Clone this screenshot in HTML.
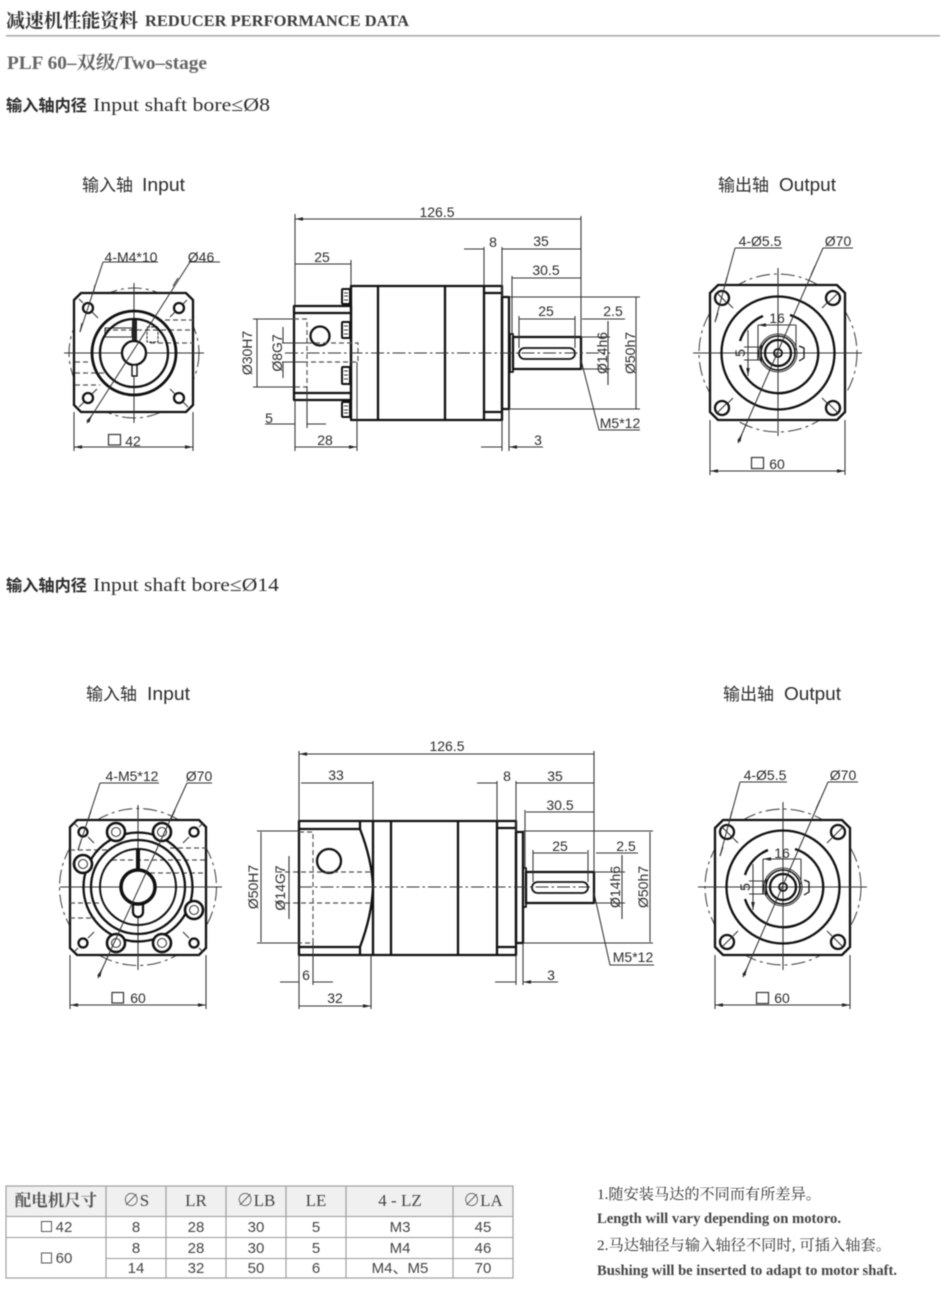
<!DOCTYPE html>
<html><head><meta charset="utf-8"><title>Reducer performance data</title>
<style>
html,body{margin:0;padding:0;background:#fff;width:950px;height:1309px;overflow:hidden}
svg{display:block;filter:blur(.4px)}
text{font-family:"Liberation Sans","Noto Sans CJK SC",sans-serif;fill:#2c2c2c}
.d{font-size:14px;text-anchor:middle}
.r{font-size:15px;text-anchor:middle;fill:#444}
.s{font-family:"Liberation Serif","Noto Serif CJK SC",serif}
.t{stroke:#111;stroke-width:2.300;fill:none;stroke-linejoin:round}
.f{stroke:#111;stroke-width:2.300;fill:#fff}
.n{stroke:#333;stroke-width:1.050;fill:none}
.a{stroke:#333;stroke-width:1.050;fill:none;marker-end:url(#ar)}
.b{stroke:#333;stroke-width:1.050;fill:none;marker-start:url(#ar);marker-end:url(#ar)}
.h{stroke:#555;stroke-width:1.200;fill:none;stroke-dasharray:5 3}
.c{stroke:#333;stroke-width:1.050;fill:none;stroke-dasharray:13 3 2.500 3}
.e{stroke:#444;stroke-width:1.050;fill:none;stroke-dasharray:14 4 3 4}
</style></head><body>
<svg xmlns="http://www.w3.org/2000/svg" width="950" height="1309" viewBox="0 0 950 1309">
<defs><marker id="ar" viewBox="0 0 8 4" refX="8" refY="2" markerWidth="8" markerHeight="4" markerUnits="userSpaceOnUse" orient="auto-start-reverse"><path d="M0 0.2L8 2L0 3.800Z" fill="#222"/></marker></defs>
<rect width="950" height="1309" fill="#fff"/>

<!-- headings -->
<text x="6" y="27" class="s" font-size="19" font-weight="bold" textLength="132" lengthAdjust="spacingAndGlyphs" style="fill:#333">减速机性能资料</text>
<text x="145" y="26" class="s" font-size="16" font-weight="bold" textLength="264" lengthAdjust="spacingAndGlyphs" style="fill:#3c3c3c">REDUCER PERFORMANCE DATA</text>
<rect x="6" y="35" width="934" height="1.600" fill="#aaa"/>
<text x="7" y="69" class="s" font-size="18.500" font-weight="bold" textLength="200" lengthAdjust="spacingAndGlyphs" style="fill:#666">PLF 60–双级/Two–stage</text>
<text x="6" y="111" font-size="16" font-weight="bold" textLength="81" lengthAdjust="spacingAndGlyphs">输入轴内径</text>
<text x="93" y="111" class="s" font-size="19" textLength="177" lengthAdjust="spacingAndGlyphs">Input shaft bore≤Ø8</text>
<text x="6" y="591" font-size="16" font-weight="bold" textLength="81" lengthAdjust="spacingAndGlyphs">输入轴内径</text>
<text x="93" y="591" class="s" font-size="19" textLength="186" lengthAdjust="spacingAndGlyphs">Input shaft bore≤Ø14</text>

<text x="82" y="191" font-size="17">输入轴</text><text x="142" y="191" font-size="18.500" textLength="43" lengthAdjust="spacingAndGlyphs">Input</text>
<text x="718" y="191" font-size="17">输出轴</text><text x="779" y="191" font-size="18.500" textLength="57" lengthAdjust="spacingAndGlyphs">Output</text>
<text x="86" y="700" font-size="17">输入轴</text><text x="147" y="700" font-size="18.500" textLength="43" lengthAdjust="spacingAndGlyphs">Input</text>
<text x="723" y="700" font-size="17">输出轴</text><text x="784" y="700" font-size="18.500" textLength="57" lengthAdjust="spacingAndGlyphs">Output</text>

<!-- ===== SECTION 1: input flange ===== -->
<circle cx="134" cy="353" r="65" class="e"/>
<path class="f" d="M81 293H186L193 300V405L186 412H81L74 405V300Z"/>
<path class="n" d="M64 353H204M134 283V423"/>
<path class="h" d="M165 320H193M105 330H193M150 343H193M75 362H90M75 373H105M75 385H100"/>
<rect x="105" y="328" width="27" height="9" class="n"/>
<rect x="147" y="327" width="11" height="15" class="n" stroke-dasharray="3 1"/>
<circle cx="134" cy="353" r="42" class="t" style="stroke-width:2.800"/>
<circle cx="134" cy="353" r="34" class="t"/>
<rect x="132" y="320" width="5" height="22" fill="#222"/>
<circle cx="134" cy="353" r="12" class="f"/>
<rect x="132" y="365" width="5" height="11" class="f" style="stroke-width:1.400"/>
<g class="t"><circle cx="88" cy="308" r="5"/><circle cx="179" cy="308" r="5"/><circle cx="88" cy="398" r="5"/><circle cx="179" cy="398" r="5"/></g>
<path class="n" d="M92 312L98 318M83 303L79 299M175 312L170 317M183 304L187 300M92 394L97 389M84 402L79 407M175 394L170 389M183 402L188 407"/>
<path class="n" d="M103 262H158M103 262L80 332M190 262H220M190 262L87 423"/>
<path class="a" d="M95 285L93 294M80 332L82 323M178 278L173 286M87 423L92 415"/>
<text x="131" y="262" class="d">4-M4*10</text><text x="201" y="262" class="d">Ø46</text>
<path class="n" d="M74 412V451M193 412V451"/><path class="b" d="M74 447H193"/>
<rect x="108.500" y="434.500" width="12" height="10.500" class="n" style="stroke-width:1.200"/>
<text x="133" y="446" class="d">42</text>

<!-- section 1 side -->
<g>
<path class="t" d="M294 306H351V400H294ZM294 313H351M294 393H351"/>
<rect x="351" y="286" width="151" height="134" class="t"/>
<path class="t" d="M378 286V420M445 286V420M484 286V420M484 293H502M484 412H502"/>
<rect x="502" y="297" width="7" height="112" class="t"/>
<rect x="510" y="334" width="3" height="38" class="t" style="stroke-width:1.800"/>
<rect x="513" y="337" width="68" height="32" class="t"/>
<rect x="519" y="348" width="56" height="11" rx="5.500" class="t" style="stroke-width:1.800"/>
<g class="t" style="stroke-width:2">
<rect x="342" y="289" width="8" height="15" rx="1"/><rect x="342" y="322" width="8" height="16" rx="1"/><rect x="342" y="367" width="8" height="17" rx="1"/><rect x="342" y="402" width="8" height="15" rx="1"/>
</g>
<path class="n" d="M344 293H348M344 296H348M344 300H348M344 326H348M344 330H348M344 334H348M344 371H348M344 375H348M344 379H348M344 406H348M344 410H348M344 413H348"/>
<circle cx="320" cy="336" r="9.500" class="t"/>
<path class="h" d="M294 319H307V387H294M307 343H358V362H307"/>
<path class="c" d="M285 353H610"/>
</g>
<path class="n" d="M295 214V306M581 216V337M351 260V286M484 247V286M502 247V297M512 276V334M519 316V348M575 316V348M509 297H640M509 409H640M581 337H610M581 369H610M253 319H294M253 387H294M282 343H307M282 362H307M295 400V451M357 362V451M307 387V428M502 420V451M509 409V451"/>
<path class="b" d="M295 219H581M295 264H351M502 249H581M512 278H581M519 319H575M636 297V409M257 319V387M295 447H357"/>
<path class="a" d="M464 249H484M625 319H582M608 321V337M608 385V369M283 327V343M283 378V362M265 424H295M326 424H307M481 447H502M543 447H509"/>
<path class="n" d="M581 360L599 430H640M608 321V385"/>
<text x="437" y="217" class="d">126.5</text>
<text x="322" y="262" class="d">25</text><text x="493" y="247" class="d">8</text><text x="541" y="246" class="d">35</text>
<text x="546" y="275" class="d">30.5</text><text x="546" y="316" class="d">25</text><text x="613" y="316" class="d">2.5</text>
<text x="620" y="428" class="d">M5*12</text><text x="538" y="445" class="d">3</text><text x="325" y="445" class="d">28</text><text x="269" y="423" class="d">5</text>
<text class="d" transform="translate(635 353) rotate(-90)">Ø50h7</text>
<text class="d" transform="translate(607 353) rotate(-90)">Ø14h6</text>
<text class="d" transform="translate(252 353) rotate(-90)">Ø30H7</text>
<text class="d" transform="translate(282 353) rotate(-90)">Ø8G7</text>

<!-- section 1 output flange -->
<circle cx="778" cy="353" r="79" class="e"/>
<path class="f" d="M718 285H837L845 293V412L837 420H718L710 412V293Z"/>
<path class="n" d="M693 353H862M778 268V436"/>
<circle cx="778" cy="353" r="56.500" class="t"/>
<path class="t" d="M790 315A40 40 0 1 1 740 365M740 341A40 40 0 0 1 763 316"/>
<g class="t"><circle cx="722" cy="298" r="7"/><circle cx="833" cy="298" r="7"/><circle cx="722" cy="408" r="7"/><circle cx="833" cy="408" r="7"/></g>
<path class="n" d="M717 293L727 303M838 293L828 303M717 413L727 403M838 413L828 403M728 303L733 308M827 303L822 308M728 403L733 398M827 403L822 398"/>
<circle cx="778" cy="353" r="19" class="n"/><circle cx="778" cy="353" r="17" class="t" style="stroke-width:1.600"/><circle cx="778" cy="353" r="13" class="t"/><circle cx="778" cy="353" r="4" class="t" style="stroke-width:1.800"/>
<path class="t" style="stroke-width:1.300" d="M799 346L804 348V358L799 361M758 347V360M761 345V362"/>
<path class="b" d="M758 325H796M748 330V376"/>
<path class="n" d="M758 325V350M796 325V350M744 347H760M744 360H760"/>
<text x="777" y="323" class="d">16</text>
<text class="d" transform="translate(745 353) rotate(-90)">5</text>
<path class="n" d="M735 248H782M735 248L715 322M823 248H853M823 248L738 443"/>
<path class="a" d="M727 277L725 285M715 322L718 313M815 266L811 275M738 443L742 434"/>
<text x="760" y="246" class="d">4-Ø5.5</text><text x="838" y="246" class="d">Ø70</text>
<path class="n" d="M710 420V475M845 420V475"/><path class="b" d="M710 471H845"/>
<rect x="751.500" y="457.500" width="12" height="11" class="n" style="stroke-width:1.200"/>
<text x="777" y="469" class="d">60</text>

<!-- ===== SECTION 2: input flange ===== -->
<circle cx="138" cy="887" r="78.500" class="e"/>
<path class="f" d="M77 820H199L206 827V948L199 955H77L70 948V827Z"/>
<path class="n" d="M60 887H222M138 805V970"/>
<path class="h" d="M70 850H110M170 848H206M112 860H206M150 873H206M70 903H100M70 918H95"/>
<circle cx="138" cy="887" r="54.500" class="t"/>
<circle cx="138" cy="887" r="47" class="t"/>
<circle cx="138" cy="887" r="38" class="t" style="stroke-width:2"/>
<rect x="136" y="849" width="4" height="22" fill="#111"/>
<path class="f" d="M133 900H143V912A5 5 0 0 1 133 912Z"/>
<circle cx="138" cy="887" r="17" class="f" style="stroke-width:3.500"/>
<g class="f" style="stroke-width:2.600">
<circle cx="116" cy="832" r="9"/><circle cx="162" cy="832" r="9"/><circle cx="83" cy="864" r="9"/><circle cx="194" cy="910" r="9"/><circle cx="116" cy="943" r="9"/><circle cx="162" cy="943" r="9"/>
</g>
<g class="n"><circle cx="116" cy="832" r="4.500"/><circle cx="162" cy="832" r="4.500"/><circle cx="83" cy="864" r="4.500"/><circle cx="194" cy="910" r="4.500"/><circle cx="116" cy="943" r="4.500"/><circle cx="162" cy="943" r="4.500"/></g>
<g class="t"><circle cx="83" cy="832" r="4.500"/><circle cx="194" cy="832" r="4.500"/><circle cx="83" cy="943" r="4.500"/><circle cx="194" cy="943" r="4.500"/></g>
<path class="n" d="M88 837L94 843M189 837L183 843M88 938L94 932M189 938L183 932M78 827L74 823M199 827L203 823M78 948L74 952M199 948L203 952"/>
<path class="n" d="M100 783H159M100 783L78 850M187 783H212M187 783L98 978"/>
<path class="a" d="M91 811L88 820M78 850L81 841M175 810L171 819M98 978L102 969"/>
<text x="132" y="781" class="d">4-M5*12</text><text x="199" y="781" class="d">Ø70</text>
<path class="n" d="M70 955V1009M206 955V1009"/><path class="b" d="M70 1005H206"/>
<rect x="112" y="992.500" width="11.500" height="10.500" class="n" style="stroke-width:1.200"/>
<text x="138" y="1003" class="d">60</text>

<!-- section 2 side -->
<rect x="299" y="821" width="217" height="134" class="t"/>
<path class="t" d="M299 829H360V821M299 947H360V955M360 829Q372 860 373 887Q372 915 360 947M373 821V955M391 821V955M458 821V955M497 821V955M497 828H516M497 947H516"/>
<rect x="516" y="832" width="7" height="111" class="t"/>
<rect x="523" y="868" width="3" height="39" class="t" style="stroke-width:1.800"/>
<rect x="526" y="872" width="68" height="31" class="t"/>
<rect x="532" y="882" width="56" height="11" rx="5.500" class="t" style="stroke-width:1.800"/>
<circle cx="329" cy="861" r="12" class="t"/>
<path class="h" d="M299 832H313V943H299M277 872H372M277 903H372"/>
<path class="c" d="M299 887H590"/>
<path class="n" d="M299 751V821M594 751V872M373 781V821M497 781V821M516 781V832M525 810V868M533 850V882M588 850V882M523 831H653M523 943H653M594 872H625M594 903H625M257 831H299M257 943H299M299 955V1009M371 955V1009M313 943V985M516 955V985M523 943V985"/>
<path class="b" d="M299 754H594M301 783H373M516 783H594M526 812H594M533 853H587M650 832V942M261 832V942M299 1006H371"/>
<path class="a" d="M477 783H497M638 853H596M622 855V872M622 919V903M289 856V872M289 919V903M280 982H299M333 982H313M495 982H516M558 982H523"/>
<path class="n" d="M594 893L610 965H654M622 855V919M289 856V919"/>
<text x="447" y="751" class="d">126.5</text><text x="336" y="780" class="d">33</text><text x="507" y="781" class="d">8</text><text x="555" y="781" class="d">35</text>
<text x="560" y="810" class="d">30.5</text><text x="560" y="851" class="d">25</text><text x="626" y="851" class="d">2.5</text>
<text x="633" y="962" class="d">M5*12</text><text x="551" y="980" class="d">3</text><text x="306" y="980" class="d">6</text><text x="335" y="1003" class="d">32</text>
<text class="d" transform="translate(648 887) rotate(-90)">Ø50h7</text>
<text class="d" transform="translate(620 887) rotate(-90)">Ø14h6</text>
<text class="d" transform="translate(258 887) rotate(-90)">Ø50H7</text>
<text class="d" transform="translate(285 888) rotate(-90)">Ø14G7</text>

<!-- section 2 output flange -->
<circle cx="783" cy="887" r="78" class="e"/>
<path class="f" d="M723 820H842L850 828V947L842 955H723L715 947V828Z"/>
<path class="n" d="M698 887H867M783 802V970"/>
<circle cx="783" cy="887" r="56.500" class="t"/>
<path class="t" d="M795 849A40 40 0 1 1 745 899M745 875A40 40 0 0 1 768 850"/>
<g class="t"><circle cx="727" cy="832" r="7"/><circle cx="838" cy="832" r="7"/><circle cx="727" cy="942" r="7"/><circle cx="838" cy="942" r="7"/></g>
<path class="n" d="M722 827L732 837M843 827L833 837M722 947L732 937M843 947L833 937M733 838L738 843M832 838L827 843M733 936L738 931M832 936L827 931"/>
<circle cx="783" cy="887" r="19" class="n"/><circle cx="783" cy="887" r="17" class="t" style="stroke-width:1.600"/><circle cx="783" cy="887" r="13" class="t"/><circle cx="783" cy="887" r="4" class="t" style="stroke-width:1.800"/>
<path class="t" style="stroke-width:1.300" d="M804 880L809 882V892L804 895M763 881V894M766 879V896"/>
<path class="b" d="M763 859H801M753 864V910"/>
<path class="n" d="M763 859V884M801 859V884M749 881H765M749 894H765"/>
<text x="782" y="858" class="d">16</text>
<text class="d" transform="translate(750 887) rotate(-90)">5</text>
<path class="n" d="M740 782H787M740 782L720 856M828 782H858M828 782L743 977"/>
<path class="a" d="M732 811L730 819M720 856L723 847M820 800L816 809M743 977L747 968"/>
<text x="765" y="780" class="d">4-Ø5.5</text><text x="843" y="780" class="d">Ø70</text>
<path class="n" d="M715 955V1009M850 955V1009"/><path class="b" d="M715 1005H850"/>
<rect x="756.500" y="992.500" width="12" height="11" class="n" style="stroke-width:1.200"/>
<text x="782" y="1003" class="d">60</text>

<!-- table -->
<rect x="6" y="1186" width="507" height="30" fill="#f0f0f0"/>
<rect x="6" y="1186" width="507" height="92" fill="none" stroke="#999" stroke-width="1.100"/>
<path stroke="#999" stroke-width="1.100" fill="none" d="M6 1216.500H513M6 1237.500H513M106 1258.500H513M106 1186V1278M166 1186V1278M226 1186V1278M286 1186V1278M346 1186V1278M453 1186V1278"/>
<text x="56" y="1206" class="s" font-size="16.500" font-weight="bold" text-anchor="middle" style="fill:#555">配电机尺寸</text>
<text x="136" y="1206" class="s" font-size="17" text-anchor="middle" style="fill:#444">∅S</text>
<text x="196" y="1206" class="s" font-size="17" text-anchor="middle" style="fill:#444">LR</text>
<text x="256" y="1206" class="s" font-size="17" text-anchor="middle" style="fill:#444">∅LB</text>
<text x="316" y="1206" class="s" font-size="17" text-anchor="middle" style="fill:#444">LE</text>
<text x="400" y="1206" class="s" font-size="17" text-anchor="middle" style="fill:#444">4 - LZ</text>
<text x="483" y="1206" class="s" font-size="17" text-anchor="middle" style="fill:#444">∅LA</text>
<rect x="41.500" y="1221.500" width="10" height="10" fill="none" stroke="#555"/>
<text x="64" y="1232" class="r">42</text>
<rect x="41.500" y="1253" width="10" height="10" fill="none" stroke="#555"/>
<text x="64" y="1263" class="r">60</text>
<text x="136" y="1232" class="r">8</text><text x="196" y="1232" class="r">28</text><text x="256" y="1232" class="r">30</text><text x="316" y="1232" class="r">5</text><text x="400" y="1232" class="r">M3</text><text x="483" y="1232" class="r">45</text>
<text x="136" y="1253" class="r">8</text><text x="196" y="1253" class="r">28</text><text x="256" y="1253" class="r">30</text><text x="316" y="1253" class="r">5</text><text x="400" y="1253" class="r">M4</text><text x="483" y="1253" class="r">46</text>
<text x="136" y="1273" class="r">14</text><text x="196" y="1273" class="r">32</text><text x="256" y="1273" class="r">50</text><text x="316" y="1273" class="r">6</text><text x="400" y="1273" class="r">M4、M5</text><text x="483" y="1273" class="r">70</text>

<!-- notes -->
<text x="597" y="1199" class="s" font-size="15" textLength="224" lengthAdjust="spacingAndGlyphs" style="fill:#333">1.随安装马达的不同而有所差异。</text>
<text x="597" y="1223" class="s" font-size="14.500" font-weight="bold" textLength="244" lengthAdjust="spacingAndGlyphs" style="fill:#444">Length will vary depending on motoro.</text>
<text x="597" y="1250" class="s" font-size="15" textLength="294" lengthAdjust="spacingAndGlyphs" style="fill:#333">2.马达轴径与输入轴径不同时, 可插入轴套。</text>
<text x="597" y="1275" class="s" font-size="14.500" font-weight="bold" textLength="300" lengthAdjust="spacingAndGlyphs" style="fill:#444">Bushing will be inserted to adapt to motor shaft.</text>
</svg>
</body></html>
